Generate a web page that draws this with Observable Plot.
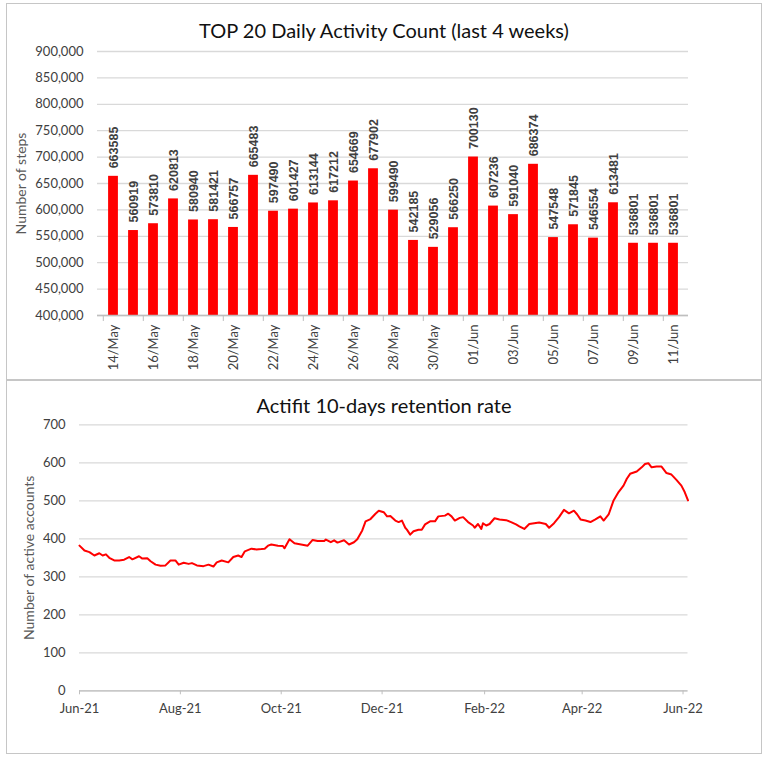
<!DOCTYPE html>
<html><head><meta charset="utf-8">
<script src="https://cdn.jsdelivr.net/npm/d3@7"></script>
<script src="https://cdn.jsdelivr.net/npm/@observablehq/plot@0.6"></script>
<style>
body{margin:0;background:#fff;font-family:Lato,sans-serif;}
#page{position:relative;width:768px;height:758px;overflow:hidden;}
.panel{position:absolute;border:1px solid #c6c6c6;box-sizing:border-box;background:#fff;}
.title{position:absolute;left:6px;width:756px;text-align:center;font-size:20px;line-height:20px;color:#111;white-space:nowrap;}
.chart{position:absolute;left:0;}
</style></head><body>
<div id="page">
  <div class="panel" style="left:6px;top:3px;width:756px;height:377px"></div>
  <div class="panel" style="left:6px;top:380px;width:756px;height:374px"></div>
  <div class="title" style="top:20px">TOP 20 Daily Activity Count (last 4 weeks)</div>
  <div class="title" style="top:395px">Actifit 10-days retention rate</div>
  <div class="chart" id="c1" style="top:0px"></div>
  <div class="chart" id="c2" style="top:381px"></div>
</div>
<script>
// ---- Top chart data ----
const days = ["14/May","15/May","16/May","17/May","18/May","19/May","20/May","21/May","22/May","23/May","24/May","25/May","26/May","27/May","28/May","29/May","30/May","31/May","01/Jun","02/Jun","03/Jun","04/Jun","05/Jun","06/Jun","07/Jun","08/Jun","09/Jun","10/Jun","11/Jun"];
const steps = [663585,560919,573810,620813,580940,581421,566757,665483,597490,601427,613144,617212,654669,677902,599490,542185,529056,566250,700130,607236,591040,686374,547548,571845,546554,613481,536801,536801,536801];
const dayLabels = ["14/May","16/May","18/May","20/May","22/May","24/May","26/May","28/May","30/May","01/Jun","03/Jun","05/Jun","07/Jun","09/Jun","11/Jun"];
const stepTicks = [400000,450000,500000,550000,600000,650000,700000,750000,800000,850000,900000];

// ---- Bottom chart data (days since 2021-06-01) ----
const retDays = [0,3,6,9,12,14,16,18,21,24,27,30,32,36,38,41,43,46,49,52,55,58,60,63,66,68,71,75,78,81,83,86,90,93,96,98,100,104,107,110,112,114,116,120,123,124,127,130,134,138,141,144,148,149,152,154,156,160,163,166,168,171,173,176,179,181,184,186,188,191,193,195,197,198,200,202,205,207,209,212,215,217,221,223,225,227,230,232,235,238,239,241,243,244,246,248,251,254,258,261,264,266,269,272,275,278,282,284,287,290,293,296,299,301,303,306,309,312,315,317,320,323,326,329,331,333,337,340,342,344,346,349,352,355,358,361,364,366,368];
const retValues = [382,369,365,356,362,356,359,350,343,343,345,352,346,354,348,349,341,332,329,330,343,343,332,337,334,336,330,328,332,327,338,343,338,352,356,352,367,374,372,373,374,382,385,382,381,375,399,388,385,382,397,394,394,398,391,396,390,396,385,391,399,422,446,452,466,474,470,459,460,448,444,448,429,424,411,420,424,424,438,446,446,459,461,466,459,448,455,457,444,435,429,439,426,441,435,439,454,451,449,444,438,433,426,439,441,443,439,429,441,457,476,467,474,464,451,448,444,451,459,448,464,501,523,540,558,571,577,588,597,599,588,590,590,573,569,555,540,523,501];
const retStart = "2021-06-01";
const retEnd = "2022-06-04";
const monthTicks = ["2021-06-01","2021-08-01","2021-10-01","2021-12-01","2022-02-01","2022-04-01","2022-06-01"];
const accTicks = [0,100,200,300,400,500,600,700];

// ---- Top chart ----
const W = 768;
const m1 = {top:51, bottom:65, left:97, right:80};
const step = (W - m1.left - m1.right) / days.length;
const table1 = days.map((d,i) => ({day:d, value:steps[i]}));
const c1 = Plot.plot({
  width: W, height: 380,
  marginTop: m1.top, marginBottom: m1.bottom, marginLeft: m1.left, marginRight: m1.right,
  style: {background:"transparent", fontFamily:"Lato, sans-serif", fontSize:"13px", color:"#404040", overflow:"visible"},
  x: {type:"band", domain: days, padding:0, axis:null},
  y: {domain:[stepTicks[0], stepTicks[stepTicks.length-1]], axis:null},
  marks: [
    Plot.gridY(stepTicks, {stroke:"#d9d9d9", strokeOpacity:1, strokeWidth:1.3}),
    Plot.axisY(stepTicks, {tickSize:0, tickPadding:14, tickFormat:d3.format(","), label:null, fontSize:13, fill:"#404040"}),
    Plot.barY(table1, {x:"day", y1:stepTicks[0], y2:"value", fill:"#ff0000", insetLeft:step/4, insetRight:step/4}),
    Plot.ruleY([stepTicks[0]], {stroke:"#bfbfbf", strokeWidth:1.3}),
    Plot.text(table1, {x:"day", y:"value", text:d=>String(d.value), rotate:-90, textAnchor:"start", dy:-8,
      fontWeight:"bold", fontFamily:"Liberation Sans, Arial, sans-serif", fontSize:12.5, fill:"#404040"}),
    Plot.axisX(dayLabels, {tickSize:0, tickRotate:-90, tickPadding:9, label:null, fontSize:13, fill:"#404040"}),
    Plot.axisX(dayLabels, {tickSize:6, dx:-step/2, tickFormat:()=>"", label:null, stroke:"#bfbfbf"}),
    Plot.text(["Number of steps"], {frameAnchor:"left", rotate:-90, dx:-75.5, textAnchor:"middle", fill:"#595959", fontSize:14, fontFamily:"Lato, sans-serif"})
  ]
});
document.getElementById("c1").appendChild(c1);

// ---- Bottom chart ----
const t0 = new Date(retStart + "T00:00:00Z");
const table2 = retDays.map((d,i) => ({date:d3.utcDay.offset(t0, d), value:retValues[i]}));
const c2 = Plot.plot({
  width: W, height: 372,
  marginTop: 43.3, marginBottom: 62.7, marginLeft: 79, marginRight: 80.5,
  style: {background:"transparent", fontFamily:"Lato, sans-serif", fontSize:"13px", color:"#404040", overflow:"visible"},
  x: {type:"utc", domain:[t0, new Date(retEnd + "T00:00:00Z")], axis:null},
  y: {domain:[accTicks[0], accTicks[accTicks.length-1]], axis:null},
  marks: [
    Plot.gridY(accTicks, {stroke:"#d9d9d9", strokeOpacity:1, strokeWidth:1.3}),
    Plot.axisY(accTicks, {tickSize:0, tickPadding:14, label:null, fontSize:13, fill:"#404040"}),
    Plot.ruleY([accTicks[0]], {stroke:"#bfbfbf", strokeWidth:1.3}),
    Plot.axisX(monthTicks.map(s => new Date(s + "T00:00:00Z")), {tickSize:4, tickPadding:9, tickFormat:d3.utcFormat("%b-%y"), label:null, stroke:"#bfbfbf", fill:"#404040", fontSize:13}),
    Plot.line(table2, {x:"date", y:"value", stroke:"#ff0000", strokeWidth:2}),
    Plot.text(["Number of active accounts"], {frameAnchor:"left", rotate:-90, dx:-49.7, textAnchor:"middle", fill:"#595959", fontSize:14, fontFamily:"Lato, sans-serif"})
  ]
});
document.getElementById("c2").appendChild(c2);
</script>
</body></html>
